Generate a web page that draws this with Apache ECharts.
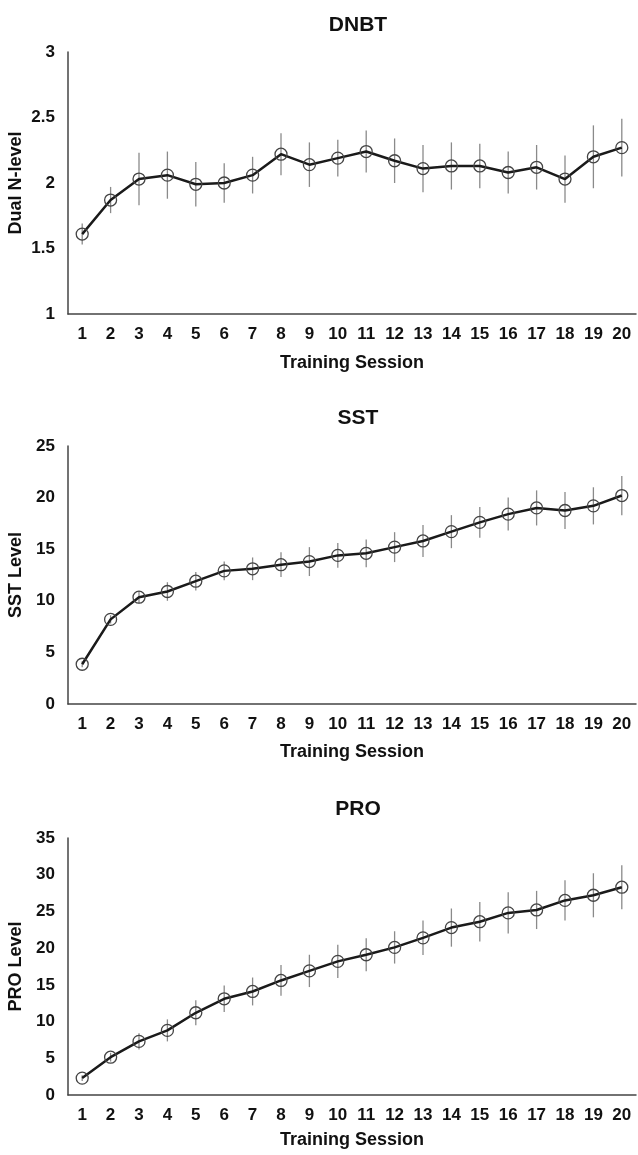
<!DOCTYPE html>
<html>
<head>
<meta charset="utf-8">
<script src="https://cdn.jsdelivr.net/npm/echarts@6/dist/echarts.min.js"></script>
<style>
  html, body { margin: 0; padding: 0; background: #fff; }
  #chart { width: 638px; height: 1155px; }
</style>
</head>
<body>
<div id="chart"></div>
<script>
var sessions = ['1','2','3','4','5','6','7','8','9','10','11','12','13','14','15','16','17','18','19','20'];

// DNBT - dual n-back level
var dnbtMean = [1.61, 1.87, 2.03, 2.06, 1.99, 2.00, 2.06, 2.22, 2.14, 2.19, 2.24, 2.17, 2.11, 2.13, 2.13, 2.08, 2.12, 2.03, 2.20, 2.27];
var dnbtErr  = [0.08, 0.10, 0.20, 0.18, 0.17, 0.15, 0.14, 0.16, 0.17, 0.14, 0.16, 0.17, 0.18, 0.18, 0.17, 0.16, 0.17, 0.18, 0.24, 0.22];

// SST level
var sstMean = [3.85, 8.2, 10.35, 10.9, 11.9, 12.9, 13.1, 13.5, 13.8, 14.4, 14.6, 15.2, 15.8, 16.7, 17.6, 18.4, 19.0, 18.75, 19.2, 20.2];
var sstErr  = [0.3, 0.4, 0.6, 0.9, 0.9, 0.9, 1.1, 1.2, 1.4, 1.2, 1.35, 1.45, 1.55, 1.6, 1.5, 1.6, 1.7, 1.8, 1.8, 1.9];

// PRO level
var proMean = [2.3, 5.15, 7.3, 8.8, 11.2, 13.1, 14.1, 15.6, 16.9, 18.2, 19.1, 20.1, 21.4, 22.8, 23.6, 24.8, 25.2, 26.5, 27.2, 28.3];
var proErr  = [0.4, 0.6, 1.1, 1.5, 1.7, 1.8, 1.9, 2.1, 2.2, 2.25, 2.25, 2.2, 2.35, 2.6, 2.7, 2.8, 2.6, 2.75, 3.0, 3.0];

var panels = [
  { title: 'DNBT', yName: 'Dual N-level', mean: dnbtMean, err: dnbtErr, min: 1, max: 3, interval: 0.5, top: 52, height: 262, titleTop: 10, xGap: 40 },
  { title: 'SST', yName: 'SST Level', mean: sstMean, err: sstErr, min: 0, max: 25, interval: 5, top: 446, height: 258, titleTop: 403, xGap: 39 },
  { title: 'PRO', yName: 'PRO Level', mean: proMean, err: proErr, min: 0, max: 35, interval: 5, top: 838, height: 257, titleTop: 794, xGap: 36 }
];

var font = 'Liberation Sans, Arial, sans-serif';

function errBar(params, api) {
  var x = api.value(0);
  var lo = api.coord([x, api.value(1)]);
  var hi = api.coord([x, api.value(2)]);
  return {
    type: 'line',
    shape: { x1: lo[0], y1: lo[1], x2: hi[0], y2: hi[1] },
    style: { stroke: '#8a8a8a', lineWidth: 1.3 }
  };
}

var option = { animation: false, title: [], grid: [], xAxis: [], yAxis: [], series: [] };

panels.forEach(function (p, i) {
  option.title.push({
    text: p.title, left: 353, top: p.titleTop, textAlign: 'center',
    textStyle: { fontFamily: font, fontWeight: 'bold', fontSize: 21, color: '#111' }
  });
  option.grid.push({ left: 68, right: 2, top: p.top, height: p.height, outerBoundsMode: 'none', containLabel: false });
  option.xAxis.push({
    type: 'category', gridIndex: i, data: sessions, boundaryGap: true,
    axisLine: { lineStyle: { color: '#444', width: 1.5 } },
    axisTick: { show: false },
    axisLabel: { interval: 0, margin: 12, fontFamily: font, fontWeight: 'bold', fontSize: 17, color: '#111' },
    name: 'Training Session', nameLocation: 'middle', nameGap: p.xGap, nameMoveOverlap: false,
    nameTextStyle: { fontFamily: font, fontWeight: 'bold', fontSize: 18, color: '#111' }
  });
  option.yAxis.push({
    type: 'value', gridIndex: i, min: p.min, max: p.max, interval: p.interval,
    axisLine: { show: true, lineStyle: { color: '#444', width: 1.5 } },
    axisTick: { show: false },
    splitLine: { show: false },
    axisLabel: { margin: 13, fontFamily: font, fontWeight: 'bold', fontSize: 17, color: '#111' },
    name: p.yName, nameLocation: 'middle', nameGap: 43, nameMoveOverlap: false,
    nameTextStyle: { fontFamily: font, fontWeight: 'bold', fontSize: 18, color: '#111' }
  });
  option.series.push({
    type: 'custom', xAxisIndex: i, yAxisIndex: i, renderItem: errBar, z: 1,
    encode: { x: 0, y: [1, 2] },
    data: p.mean.map(function (m, k) { return [k, m - p.err[k], m + p.err[k]]; })
  });
  option.series.push({
    type: 'line', xAxisIndex: i, yAxisIndex: i, data: p.mean, z: 3,
    symbol: 'circle', symbolSize: 12,
    lineStyle: { color: '#1a1a1a', width: 2.5 },
    itemStyle: { color: 'rgba(255,255,255,0)', borderColor: '#444', borderWidth: 1.3 }
  });
});

var myChart = echarts.init(document.getElementById('chart'));
myChart.setOption(option);
</script>
</body>
</html>
